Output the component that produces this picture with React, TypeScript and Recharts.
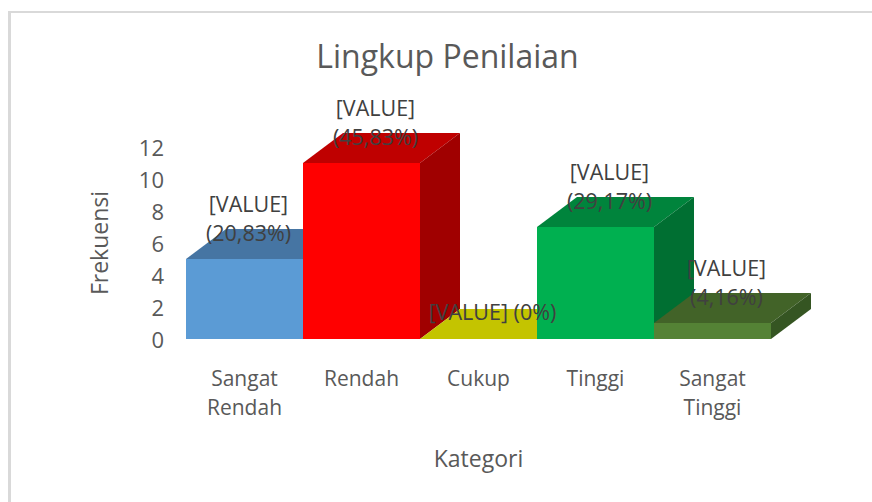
import React from 'react';
import { BarChart, Bar, XAxis, YAxis, LabelList } from 'recharts';

const categories = ['Sangat Rendah', 'Rendah', 'Cukup', 'Tinggi', 'Sangat Tinggi'];
const frequencies = [5, 11, 0, 7, 1];
const percentLabels = ['(20,83%)', '(45,83%)', '(0%)', '(29,17%)', '(4,16%)'];
const yTicks = [0, 2, 4, 6, 8, 10, 12];

const chartData = categories.map((name, i) => ({
  name,
  value: frequencies[i],
  percent: percentLabels[i],
}));

// warna tiap batang: depan, atas, samping
const faceColors = [
  { front: '#5B9BD5', top: '#4675A3', side: '#3C6490' },
  { front: '#FF0000', top: '#BF0000', side: '#A00000' },
  { front: '#DADA00', top: '#C4C400', side: '#A8A800' },
  { front: '#00B050', top: '#00843C', side: '#006F32' },
  { front: '#548235', top: '#426328', side: '#355522' },
];

const DEPTH_X = 40;
const DEPTH_Y = 30;
const FONT = '"Open Sans", sans-serif';

// batang semu 3D, ukuran dari skala Recharts
function Bar3D(props: any) {
  const { x, y, width, height, index } = props;
  const c = faceColors[index];
  const right = x + width;
  const bottom = y + height;
  return (
    <g>
      <polygon
        points={`${x},${y} ${x + DEPTH_X},${y - DEPTH_Y} ${right + DEPTH_X},${y - DEPTH_Y} ${right},${y}`}
        fill={c.top}
      />
      <polygon
        points={`${right},${y} ${right + DEPTH_X},${y - DEPTH_Y} ${right + DEPTH_X},${bottom - DEPTH_Y} ${right},${bottom}`}
        fill={c.side}
      />
      <rect x={x} y={y} width={width} height={height} fill={c.front} />
    </g>
  );
}

function CategoryTick(props: any) {
  const { x, y, payload } = props;
  const words = String(payload.value).split(' ');
  return (
    <text x={x} y={y} textAnchor="middle" fill="#595959" fontSize={21} fontFamily={FONT}>
      {words.map((w: string, i: number) => (
        <tspan key={w} x={x} dy={i === 0 ? 39 : 29}>
          {w}
        </tspan>
      ))}
    </text>
  );
}

function ValueLabel(props: any) {
  const { x, y, width, index } = props;
  const cx = x + width / 2 + (index === 0 ? 4 : 14);
  const percent = percentLabels[index];
  const style = { fill: '#404040', fontSize: 21.5, fontFamily: FONT };
  if (frequencies[index] === 0) {
    return (
      <text x={cx} y={y - 19} textAnchor="middle" {...style}>
        {`[VALUE] ${percent}`}
      </text>
    );
  }
  return (
    <text x={cx} y={y} textAnchor="middle" {...style}>
      <tspan x={cx} dy={-47.5}>[VALUE]</tspan>
      <tspan x={cx} dy={29.5}>{percent}</tspan>
    </text>
  );
}

export default function App() {
  return (
    <div style={{ position: 'absolute', left: 0, top: 0, width: 872, height: 502, background: '#fff', overflow: 'hidden' }}>
      <div
        style={{
          position: 'absolute',
          left: 8,
          top: 11,
          width: 864,
          height: 491,
          boxSizing: 'border-box',
          borderLeft: '3px solid #D9D9D9',
          borderTop: '2px solid #D9D9D9',
        }}
      />
      <div style={{ position: 'absolute', left: 0, top: 0 }}>
        <BarChart
          width={872}
          height={502}
          data={chartData}
          margin={{ top: 147, right: 101, bottom: 0, left: 0 }}
          barCategoryGap={0}
          style={{ fontFamily: FONT }}
        >
          <text x={447.5} y={68} textAnchor="middle" fill="#595959" fontSize={32} fontFamily={FONT}>
            Lingkup Penilaian
          </text>
          <XAxis
            dataKey="name"
            height={163}
            axisLine={false}
            tickLine={false}
            interval={0}
            tick={<CategoryTick />}
            label={{ value: 'Kategori', position: 'insideBottom', offset: 35, fill: '#595959', fontSize: 23, fontFamily: FONT }}
          />
          <YAxis
            width={186}
            domain={[0, 12]}
            ticks={yTicks}
            axisLine={false}
            tickLine={false}
            tickMargin={16}
            tick={{ fill: '#595959', fontSize: 22, fontFamily: FONT, dy: 1 }}
            label={{ value: 'Frekuensi', angle: -90, position: 'insideLeft', offset: 100, style: { textAnchor: 'middle' }, fill: '#595959', fontSize: 23, fontFamily: FONT }}
          />
          <Bar dataKey="value" shape={<Bar3D />} isAnimationActive={false}>
            <LabelList dataKey="value" content={<ValueLabel />} />
          </Bar>
        </BarChart>
      </div>
    </div>
  );
}
